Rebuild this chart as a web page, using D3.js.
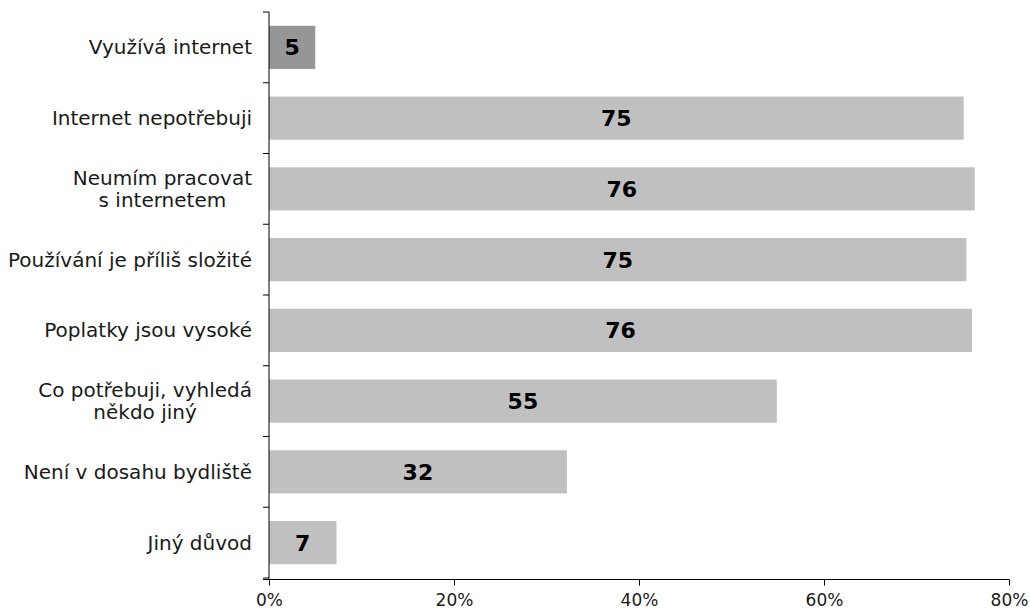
<!DOCTYPE html>
<html>
<head>
<meta charset="utf-8">
<script src="https://cdn.jsdelivr.net/npm/d3@7"></script>
<style>
  html, body { margin: 0; padding: 0; background: #fff; }
  svg { display: block; font-family: "DejaVu Sans", Verdana, sans-serif; }
</style>
</head>
<body>
<svg id="chart" width="1030" height="611"></svg>
<script>
// Reasons for (not) using the internet, share of respondents in %
const categories = [
  ["Využívá internet"],
  ["Internet nepotřebuji"],
  ["Neumím pracovat", "s internetem"],
  ["Používání je příliš složité"],
  ["Poplatky jsou vysoké"],
  ["Co potřebuji, vyhledá", "někdo jiný"],
  ["Není v dosahu bydliště"],
  ["Jiný důvod"]
];
const values = [5.0, 75.1, 76.3, 75.4, 76.0, 54.9, 32.2, 7.3];
const highlight = [true, false, false, false, false, false, false, false];
const xTicks = [0, 20, 40, 60, 80];

const svg = d3.select("#chart");
const margin = { left: 269, right: 21, top: 12, bottom: 33 };
const W = 1030, H = 611;

const x = d3.scaleLinear().domain([0, 80]).range([margin.left, W - margin.right]);
const y = d3.scaleBand()
  .domain(d3.range(categories.length))
  .range([margin.top, H - margin.bottom])
  .paddingInner(0.39)
  .paddingOuter(0.195);

// bars
svg.append("g").selectAll("rect")
  .data(values)
  .join("rect")
  .attr("x", x(0))
  .attr("y", (d, i) => y(i))
  .attr("width", d => x(d) - x(0))
  .attr("height", y.bandwidth())
  .attr("fill", (d, i) => highlight[i] ? "#969696" : "#c0c0c0");

// value labels centred in each bar
svg.append("g").selectAll("text")
  .data(values)
  .join("text")
  .attr("x", d => (x(0) + x(d)) / 2)
  .attr("y", (d, i) => y(i) + y.bandwidth() / 2)
  .attr("dy", "0.36em")
  .attr("text-anchor", "middle")
  .attr("font-size", 22)
  .attr("font-weight", "bold")
  .attr("fill", "#000")
  .text(d => d3.format(".0f")(d));

// y axis: line with ticks at category boundaries
const yAxis = svg.append("g");
const step = y.step();
const y0 = margin.top, y1 = H - margin.bottom;
yAxis.append("line")
  .attr("x1", x(0)).attr("x2", x(0))
  .attr("y1", y0).attr("y2", y1 + 1)
  .attr("stroke", "#000").attr("stroke-width", 1);
yAxis.selectAll("line.tick")
  .data(d3.range(categories.length + 1))
  .join("line")
  .attr("class", "tick")
  .attr("x1", x(0) - 6).attr("x2", x(0))
  .attr("y1", i => y0 + i * step).attr("y2", i => y0 + i * step)
  .attr("stroke", "#000");

// category labels (multi-line blocks right-aligned, lines centred)
const labelRight = x(0) - 17;
const lineH = 22;
const labels = svg.append("g")
  .attr("font-size", 20)
  .attr("fill", "#1a1a1a");
categories.forEach((lines, i) => {
  const cy = y(i) + y.bandwidth() / 2;
  const g = labels.append("g");
  const texts = lines.map((ln, j) => g.append("text")
    .attr("y", cy + (j - (lines.length - 1) / 2) * lineH)
    .attr("dy", "0.35em")
    .text(ln));
  const maxW = d3.max(texts, t => t.node().getComputedTextLength());
  texts.forEach(t => t.attr("x", labelRight - maxW / 2).attr("text-anchor", "middle"));
});

// x axis
const axisY = y1 + 1.5;
const xAxis = d3.axisBottom(x)
  .tickValues(xTicks)
  .tickFormat(d => d + "%")
  .tickSize(6)
  .tickSizeOuter(0);
const gx = svg.append("g")
  .attr("transform", `translate(0,${axisY})`)
  .call(xAxis);
gx.select(".domain").remove();
gx.append("line")
  .attr("x1", x(0) - 6).attr("x2", x(80))
  .attr("y1", 0).attr("y2", 0)
  .attr("stroke", "#000");
gx.selectAll(".tick line").attr("stroke", "#000");
gx.selectAll(".tick text")
  .attr("y", 606 - axisY)
  .attr("dy", null)
  .attr("font-size", 17)
  .attr("font-family", "DejaVu Sans, Verdana, sans-serif")
  .attr("fill", "#1a1a1a");
</script>
</body>
</html>
